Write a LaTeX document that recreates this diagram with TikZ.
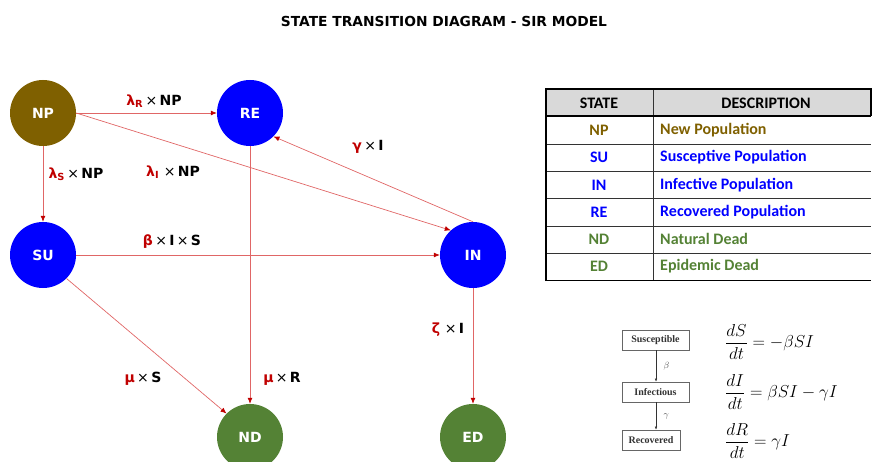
\documentclass[tikz,border=0pt]{standalone}
\usepackage{fontspec}
\usetikzlibrary{arrows.meta}
\newfontfamily\dvfont{DejaVu Sans}
\newfontfamily\tabfont{Carlito}
\newfontfamily\timesfont{Liberation Serif}
\definecolor{npc}{HTML}{7F6000}
\definecolor{bluec}{HTML}{0000FF}
\definecolor{greenc}{HTML}{548235}
\definecolor{redc}{HTML}{C00000}
\definecolor{edgec}{HTML}{E06666}
\definecolor{hdr}{HTML}{D9D9D9}
\newcommand{\rl}[1]{\textcolor{redc}{#1}}
\begin{document}
\begin{tikzpicture}[x=1pt,y=-1pt,
  state/.style={circle,minimum size=66pt,inner sep=0pt,text=white,
    font=\dvfont\bfseries\fontsize{14}{16}\selectfont},
  edge/.style={draw=edgec,line width=0.7pt,
    -{Latex[length=6pt,width=5pt,color=redc]}},
  lbl/.style={font=\dvfont\bfseries\fontsize{14}{16}\selectfont,inner sep=0pt},
  tabtxt/.style={font=\tabfont\bfseries\fontsize{16}{18}\selectfont,inner sep=0pt},
  sbox/.style={draw=black!60,line width=0.6pt,minimum width=67pt,minimum height=20pt,inner sep=0pt,
    font=\timesfont\bfseries\fontsize{10}{11}\selectfont,text=black!80},
  eq/.style={inner sep=0pt,font=\fontsize{18}{21}\selectfont}
]
\useasboundingbox (0,0) rectangle (872,462);

% title
\node[font=\dvfont\bfseries\fontsize{13.8}{15}\selectfont] (title) at (444,21) {STATE TRANSITION DIAGRAM - SIR MODEL};

% states
\node[state,fill=npc] (NP) at (43,113) {NP};
\node[state,fill=bluec] (RE) at (250,113) {RE};
\node[state,fill=bluec] (SU) at (43,255) {SU};
\node[state,fill=bluec] (IN) at (473,255) {IN};
\node[state,fill=greenc] (ND) at (250,437) {ND};
\node[state,fill=greenc] (ED) at (473,437) {ED};

% transitions
\draw[edge] (NP) -- (RE);
\draw[edge] (NP.east) -- (IN.132);
\draw[edge] (IN.north) -- (RE.-45);
\draw[edge] (NP) -- (SU);
\draw[edge] (SU) -- (IN);
\draw[edge] (RE) -- (ND);
\draw[edge] (SU.-45) -- (ND.135);
\draw[edge] (IN) -- (ED);

% labels
\node[lbl] (l1) at (154,101) {\rl{λ\textsubscript{R}}\,{\mdseries×}\,NP};
\node[lbl] (l2) at (76,174) {\rl{λ\textsubscript{S}}\,{\mdseries×}\,NP};
\node[lbl] (l3) at (173,172) {\rl{λ\textsubscript{I}}\,\,{\mdseries×}\,NP};
\node[lbl] (l4) at (368,147) {\rl{γ}\,{\mdseries×}\,I};
\node[lbl] (l5) at (172,242) {\rl{β}\,{\mdseries×}\,I\,{\mdseries×}\,S};
\node[lbl] (l6) at (448,330) {\rl{ζ}\,\,{\mdseries×}\,I};
\node[lbl] (l7) at (143,379) {\rl{μ}\,{\mdseries×}\,S};
\node[lbl] (l8) at (282,379) {\rl{μ}\,{\mdseries×}\,R};

% table
\begin{scope}
\clip (540,80) rectangle (872,290);
\fill[hdr] (546,89) rectangle (871,116);
\foreach \yy in {144,171,198,226,253}
  \draw[black!80,line width=0.8pt] (546,\yy) -- (871,\yy);
\draw[black,line width=0.8pt] (546,280) -- (871,280);
\draw[black!80,line width=0.8pt] (653,89) -- (653,280);
\draw[black,line width=1.6pt] (546,116) -- (871,116);
\draw[black,line width=2.5pt] (546,281) -- (546,89) -- (871,89) -- (871,116);
\end{scope}
\node[tabtxt] (h1) at (599,103) {STATE};
\node[tabtxt] (h2) at (766,103) {DESCRIPTION};
\node[tabtxt,text=npc] (s1) at (599,130) {NP};
\node[tabtxt,text=bluec] (s2) at (599,157) {SU};
\node[tabtxt,text=bluec] (s3) at (599,185) {IN};
\node[tabtxt,text=bluec] (s4) at (599,212) {RE};
\node[tabtxt,text=greenc] (s5) at (599,239) {ND};
\node[tabtxt,text=greenc] (s6) at (599,266) {ED};
\node[tabtxt,text=npc,anchor=west] (d1) at (660,130) {New Population};
\node[tabtxt,text=bluec,anchor=west] (d2) at (660,157) {Susceptive Population};
\node[tabtxt,text=bluec,anchor=west] (d3) at (660,185) {Infective Population};
\node[tabtxt,text=bluec,anchor=west] (d4) at (660,212) {Recovered Population};
\node[tabtxt,text=greenc,anchor=west] (d5) at (660,239) {Natural Dead};
\node[tabtxt,text=greenc,anchor=west] (d6) at (660,266) {Epidemic Dead};

% SIR inset
\node[sbox] (bS) at (655.5,340) {Susceptible};
\node[sbox] (bI) at (655.5,392) {Infectious};
\node[sbox,minimum width=58pt] (bR) at (651,440) {Recovered};
\draw[black!80,line width=0.5pt,-{Latex[length=3pt,width=2.5pt]}] (bS.south -| 656,0) -- (bI.north -| 656,0) node[midway,right=4pt,font=\fontsize{9}{10}\selectfont,text=black!70] {$\beta$};
\draw[black!80,line width=0.5pt,-{Latex[length=3pt,width=2.5pt]}] (bI.south -| 656,0) -- (bR.north -| 656,0) node[midway,right=4pt,font=\fontsize{9}{10}\selectfont,text=black!70] {$\gamma$};
\node[eq,anchor=west] (e1) at (725,342) {$\displaystyle\frac{dS}{dt}=-\beta SI$};
\node[eq,anchor=west] (e2) at (725,392) {$\displaystyle\frac{dI}{dt}=\beta SI-\gamma I$};
\node[eq,anchor=west] (e3) at (725,441) {$\displaystyle\frac{dR}{dt}=\gamma I$};
\end{tikzpicture}
\end{document}
